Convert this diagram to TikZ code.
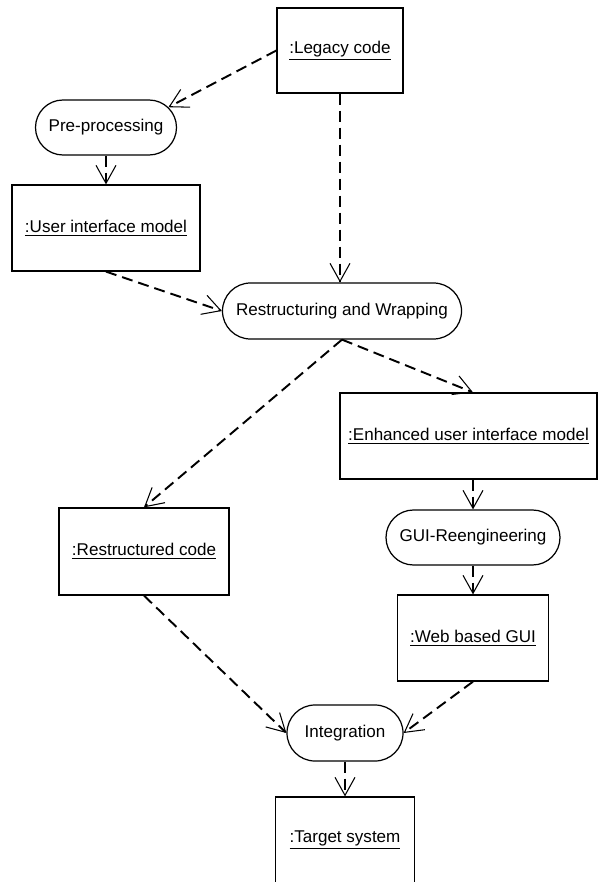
\documentclass[tikz,border=0pt]{standalone}
\usepackage{fontspec}
\setmainfont{Liberation Sans}
\usetikzlibrary{arrows.meta,shapes.misc,calc}

\begin{document}
\begin{tikzpicture}[x=0.2mm,y=-0.2mm,
	font=\fontsize{9.7}{11.6}\selectfont,
	obj/.style={rectangle,draw,line width=0.7pt,minimum height=17.2mm,inner sep=0pt},
	act/.style={rounded rectangle,draw,line width=0.7pt,minimum height=11.2mm,inner sep=0pt},
	flow/.style={line width=1.1pt,dash pattern=on 2.2mm off 1.2mm,
		-{Straight Barb[length=3.6mm,width=4mm,line width=0.6pt]}}]
		\useasboundingbox (0,0) rectangle (600,882);
		\clip (0,0) rectangle (600,882);
		\node [obj,minimum width=25.2mm,minimum height=17mm] (1) at (340, 50.5) {\underline{:Legacy code}};
		\node [act,minimum width=28.2mm,minimum height=11mm] (2) at (106, 127.5) {Pre-processing};
		\node [obj,minimum width=37.6mm] (3) at (106, 228) {\underline{:User interface model}};
		\node [act,minimum width=47.8mm] (4) at (342, 311) {Restructuring and Wrapping};
		\node [obj,minimum width=51.4mm] (5) at (468.5, 436) {\underline{:Enhanced user interface model}};
		\node [act,minimum width=34.8mm,minimum height=11mm] (6) at (473, 537.5) {GUI-Reengineering};
		\node [obj,minimum width=30.2mm] (7) at (473, 638) {\underline{:Web based GUI}};
		\node [obj,minimum width=34mm,minimum height=17.4mm] (8) at (144, 551.5) {\underline{:Restructured code}};
		\node [act,minimum width=23.2mm] (9) at (345, 733) {Integration};
		\node [obj,minimum width=27.8mm] (10) at (345, 840) {\underline{:Target system}};
		\draw [flow] (1.west) to (2.18);
		\draw [flow] (1.south) to (1.south |- 4.north);
		\draw [flow] (2.south) to (3.north);
		\draw [flow] (3.south) to (4.west);
		\draw [flow] (4.south) to (8.north);
		\draw [flow] (4.south) to (5.north -| 6.north);
		\draw [flow] (5.south -| 6.north) to (6.north);
		\draw [flow] (6.south) to (7.north);
		\draw [flow] (8.south) to (9.west);
		\draw [flow] (7.south) to (9.east);
		\draw [flow] (9.south) to (10.north);
\end{tikzpicture}
\end{document}
